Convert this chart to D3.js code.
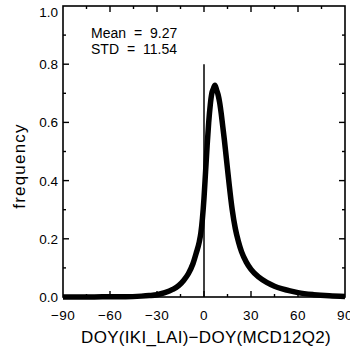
<!DOCTYPE html>
<html>
<head>
<meta charset="utf-8">
<script src="https://cdn.jsdelivr.net/npm/d3@7"></script>
<style>
  html, body { margin: 0; padding: 0; background: #fff; }
  svg { display: block; }
  text { font-family: "Liberation Sans", Arial, Helvetica, sans-serif; fill: #000; }
</style>
</head>
<body>
<svg id="chart" width="350" height="351"></svg>
<script>
// Distribution of onset-date differences (days)
const doy = [-90, -70, -60, -50, -40, -35, -30, -25, -20, -16, -13, -10, -7, -5, -3, -2, -1,
             0, 1, 2, 3, 4, 5, 6, 7, 8, 9, 10, 11, 12, 13, 14, 15, 16, 18, 20, 22, 24, 27,
             30, 35, 40, 45, 50, 55, 60, 70, 80, 90];
const freq = [0.000, 0.000, 0.001, 0.001, 0.003, 0.005, 0.008, 0.015, 0.026, 0.040, 0.057, 0.080, 0.115, 0.150, 0.190, 0.220, 0.270,
              0.340, 0.430, 0.520, 0.600, 0.660, 0.700, 0.716, 0.728, 0.712, 0.695, 0.668, 0.630, 0.585, 0.540, 0.490, 0.440, 0.390, 0.300, 0.235, 0.190, 0.155, 0.120,
              0.095, 0.068, 0.050, 0.037, 0.028, 0.021, 0.015, 0.008, 0.004, 0.002];
const xTicks = [-90, -60, -30, 0, 30, 60, 90];
const xMinor = [-75, -45, -15, 15, 45, 75];
const yTicks = [0.0, 0.2, 0.4, 0.6, 0.8, 1.0];
const yMinor = [0.1, 0.3, 0.5, 0.7, 0.9];
const stats = ["Mean = 9.27", "STD = 11.54"];

const svg = d3.select("#chart");
const plotL = 63, plotR = 345, plotT = 6, plotB = 297;

const x = d3.scaleLinear().domain([-90, 90]).range([plotL, plotR]);
const y = d3.scaleLinear().domain([0, 1]).range([plotB, plotT]);

const fmtX = d => d < 0 ? "\u2212" + Math.abs(d) : String(d);

// curve
svg.append("path")
  .datum(doy.map((d, i) => [d, freq[i]]))
  .attr("fill", "none")
  .attr("stroke", "#000")
  .attr("stroke-width", 5.5)
  .attr("stroke-linejoin", "round")
  .attr("d", d3.line().x(d => x(d[0])).y(d => y(d[1])).curve(d3.curveMonotoneX));

// zero reference line
svg.append("line")
  .attr("x1", x(0)).attr("x2", x(0))
  .attr("y1", y(0.8)).attr("y2", y(0))
  .attr("stroke", "#000").attr("stroke-width", 1.5);

// frame
svg.append("rect")
  .attr("x", plotL).attr("y", plotT)
  .attr("width", plotR - plotL).attr("height", plotB - plotT)
  .attr("fill", "none").attr("stroke", "#000").attr("stroke-width", 1.6);

const tickG = svg.append("g").attr("stroke", "#000").attr("stroke-width", 1.4);
function vTicks(vals, len) {
  vals.forEach(v => {
    tickG.append("line").attr("x1", x(v)).attr("x2", x(v)).attr("y1", plotB).attr("y2", plotB - len);
    tickG.append("line").attr("x1", x(v)).attr("x2", x(v)).attr("y1", plotT).attr("y2", plotT + len);
  });
}
function hTicks(vals, len) {
  vals.forEach(v => {
    tickG.append("line").attr("y1", y(v)).attr("y2", y(v)).attr("x1", plotL).attr("x2", plotL + len);
    tickG.append("line").attr("y1", y(v)).attr("y2", y(v)).attr("x1", plotR).attr("x2", plotR - len);
  });
}
vTicks(xTicks.slice(1, -1), 6);
vTicks(xMinor, 3);
hTicks(yTicks.slice(1, -1), 6);
hTicks(yMinor, 3);

// x tick labels
svg.append("g").selectAll("text").data(xTicks).join("text")
  .attr("x", d => x(d)).attr("y", 320)
  .attr("text-anchor", "middle")
  .attr("font-size", 13.5)
  .attr("letter-spacing", 0.4)
  .text(fmtX);

// y tick labels
svg.append("g").selectAll("text").data(yTicks).join("text")
  .attr("x", 58)
  .attr("y", d => Math.max(y(d), 12) + 5)
  .attr("text-anchor", "end")
  .attr("font-size", 13.5)
  .text(d => d.toFixed(1));

// axis titles
svg.append("text")
  .attr("x", 206).attr("y", 343)
  .attr("text-anchor", "middle")
  .attr("font-size", 17)
  .attr("letter-spacing", 0.3)
  .text("DOY(IKI_LAI)\u2212DOY(MCD12Q2)");

svg.append("text")
  .attr("transform", "translate(25,166) rotate(-90)")
  .attr("text-anchor", "middle")
  .attr("font-size", 17)
  .attr("letter-spacing", 1.2)
  .text("frequency");

// statistics
svg.append("g").selectAll("text").data(stats).join("text")
  .attr("x", 91).attr("y", (d, i) => 38 + i * 16)
  .attr("font-size", 14)
  .attr("word-spacing", 4)
  .text(d => d);
</script>
</body>
</html>
